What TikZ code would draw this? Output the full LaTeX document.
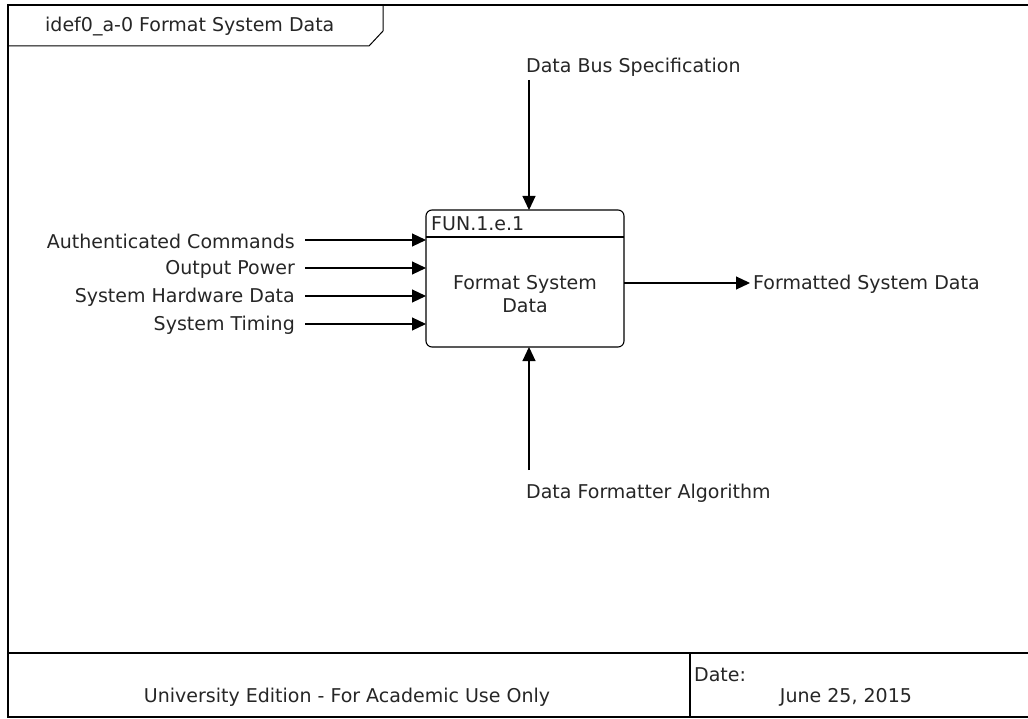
\documentclass[tikz,border=0pt]{standalone}
\usepackage{fontspec}
\setmainfont{DejaVu Sans}
\usetikzlibrary{arrows.meta}
\begin{document}
\begin{tikzpicture}[x=1pt,y=-1pt,
  lbl/.style={font=\fontsize{19}{23}\selectfont, text=black!85, inner sep=0pt},
  flow/.style={line width=1.1pt, -{Triangle[length=14pt,width=13pt]}},
  frame/.style={line width=1.6pt}]
\useasboundingbox[fill=white] (0,0) rectangle (1028,719);
% outer frame
\draw[frame] (1040,5) -- (8,5) -- (8,717) -- (1040,717);
\draw[frame] (8,653) -- (1040,653);
\draw[frame] (690,653) -- (690,717);
% title tab
\draw[line width=1pt] (8,46) -- (369,46) -- (383,31) -- (383,5);
\node[lbl, anchor=west] (title) at (45,27) {idef0\_a-0 Format System Data};
% footer texts
\node[lbl] (edition) at (347,697) {University Edition - For Academic Use Only};
\node[lbl, anchor=west] (datel) at (694,675) {Date:};
\node[lbl] (date) at (846,697) {June 25, 2015};
% function box
\draw[line width=1.1pt, rounded corners=6pt] (426,210) rectangle (624,347);
\node[inner sep=0pt, minimum width=198pt, minimum height=137pt] (box) at (525,278.5) {};
\draw[line width=1.1pt] (426,237) -- (624,237);
\node[lbl, anchor=west] (fid) at (431,224) {FUN.1.e.1};
\node[lbl, align=center] (fname) at (525,294) {Format System\\Data};
% inputs
\node[lbl, anchor=east] (in1) at (295,241) {Authenticated Commands};
\node[lbl, anchor=east] (in2) at (295,269) {Output Power};
\node[lbl, anchor=east] (in3) at (295,297) {System Hardware Data};
\node[lbl, anchor=east] (in4) at (295,325) {System Timing};
\coordinate (i1) at (426,240);
\coordinate (i2) at (426,268);
\coordinate (i3) at (426,296);
\coordinate (i4) at (426,324);
\draw[flow] (305,240) -- (i1);
\draw[flow] (305,268) -- (i2);
\draw[flow] (305,296) -- (i3);
\draw[flow] (305,324) -- (i4);
% control
\node[lbl, anchor=west] (ctrl) at (526,67) {Data Bus Specification};
\coordinate (c0) at (529,80);
\coordinate (c1) at (529,210);
\draw[flow] (c0) -- (c1);
% mechanism
\node[lbl, anchor=west] (mech) at (526,493) {Data Formatter Algorithm};
\coordinate (m0) at (529,470);
\coordinate (m1) at (529,347);
\draw[flow] (m0) -- (m1);
% output
\coordinate (o0) at (624,283);
\coordinate (o1) at (750,283);
\draw[flow] (o0) -- (o1);
\node[lbl, anchor=west] (out) at (753,284) {Formatted System Data};
\end{tikzpicture}
\end{document}
